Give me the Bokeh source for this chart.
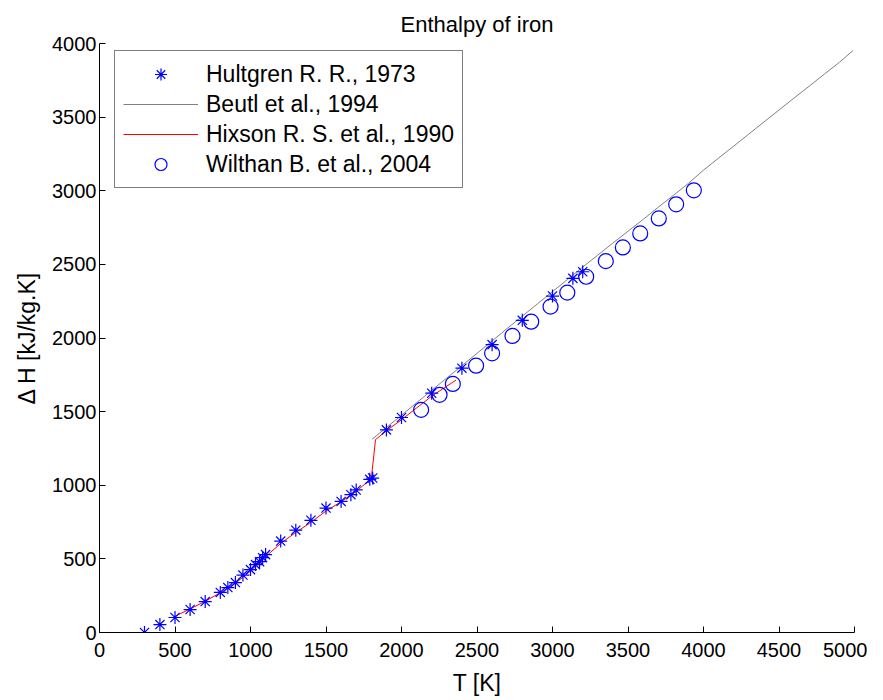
from bokeh.plotting import figure
from bokeh.models import Range1d, SingleIntervalTicker, Legend, LegendItem
from bokeh.embed import file_html
from bokeh.resources import INLINE

# Hultgren R. R., 1973
hult_T = [298, 400, 500, 600, 700, 800, 850, 900, 950, 1000, 1033, 1060, 1080, 1100,
          1200, 1300, 1400, 1500, 1600, 1665, 1700, 1790, 1809,
          1900, 2000, 2200, 2400, 2600, 2800, 3000, 3135, 3200]
hult_H = [0, 54, 102, 156, 210, 272, 305, 339, 390, 427, 461, 481, 508, 529,
          621, 695, 762, 845, 890, 936, 968, 1040, 1049,
          1376, 1460, 1625, 1795, 1955, 2120, 2285, 2405, 2450]

# Beutl et al., 1994
beutl_T = [1806, 1900, 2000, 2100, 2200, 2300, 2400, 2500, 2600, 2700, 2800, 2900,
           3000, 3100, 3200, 3300, 3400, 3500, 3600, 3700, 3800, 3900, 4000, 4100,
           4200, 4300, 4400, 4500, 4600, 4700, 4800, 4900, 4990]
beutl_H = [1313, 1392, 1475, 1560, 1645, 1728, 1812, 1896, 1980, 2065, 2148, 2232,
           2315, 2398, 2482, 2563, 2645, 2725, 2805, 2888, 2968, 3050, 3140, 3222,
           3303, 3385, 3467, 3548, 3630, 3710, 3792, 3872, 3952]

# Hixson R. S. et al., 1990
hix_T = [500, 600, 700, 800, 900, 1000, 1100, 1200, 1300, 1400, 1500, 1600, 1700,
         1800, 1828, 1900, 2000, 2100, 2200, 2362]
hix_H = [110, 160, 212, 270, 335, 418, 515, 605, 680, 748, 825, 888, 958,
         1045, 1310, 1370, 1445, 1525, 1605, 1715]

# Wilthan B. et al., 2004
wil_T = [2130, 2252, 2340, 2494, 2600, 2735, 2859, 2987, 3098, 3223, 3353, 3466,
         3581, 3704, 3819, 3936]
wil_H = [1512, 1614, 1688, 1812, 1896, 2014, 2111, 2213, 2308, 2416, 2522, 2615,
         2710, 2812, 2908, 3003]

FONT = "Liberation Sans"

p = figure(width=867, height=698, x_range=Range1d(0, 5000), y_range=Range1d(0, 4000),
           output_backend="svg", toolbar_location=None,
           min_border_left=99, min_border_right=13, min_border_top=43, min_border_bottom=65,
           title="Enthalpy of iron")
p.title.align = "center"
p.title.vertical_align = "top"
p.title.text_font = FONT
p.title.text_font_size = "22px"
p.title.text_font_style = "normal"
p.title.text_color = "black"
p.title.standoff = 10
p.outline_line_color = None
p.xgrid.visible = False
p.ygrid.visible = False
p.background_fill_color = "white"
p.border_fill_color = "white"

p.xaxis.ticker = SingleIntervalTicker(interval=500, num_minor_ticks=0)
p.yaxis.ticker = SingleIntervalTicker(interval=500, num_minor_ticks=0)
for ax in (p.xaxis, p.yaxis):
    ax.major_tick_in = 6
    ax.major_tick_out = 0
    ax.minor_tick_line_color = None
    ax.axis_line_color = "black"
    ax.major_tick_line_color = "black"
    ax.major_label_text_font = FONT
    ax.major_label_text_font_size = "20px"
    ax.major_label_text_color = "black"
    ax.axis_label_text_font = FONT
    ax.axis_label_text_font_size = "23px"
    ax.axis_label_text_font_style = "normal"
    ax.axis_label_text_color = "black"
p.xaxis.axis_label = "T [K]"
p.yaxis.axis_label = "\u0394 H [kJ/kg.K]"
p.xaxis.major_label_standoff = 10
p.yaxis.major_label_standoff = 3
p.xaxis.axis_label_standoff = 10
p.yaxis.axis_label_standoff = 9

r_beutl = p.line(beutl_T, beutl_H, line_color="#808080", line_width=1)
r_hix = p.line(hix_T, hix_H, line_color="#ff0000", line_width=1)
r_wil = p.scatter(wil_T, wil_H, marker="circle", size=15, fill_color=None,
                  line_color="#0000ff", line_width=1.2)
r_hult = p.scatter(hult_T, hult_H, marker="asterisk", size=13,
                   line_color="#0000ff", line_width=1.2)

legend = Legend(items=[
    LegendItem(label="Hultgren R. R., 1973", renderers=[r_hult]),
    LegendItem(label="Beutl et al., 1994", renderers=[r_beutl]),
    LegendItem(label="Hixson R. S. et al., 1990", renderers=[r_hix]),
    LegendItem(label="Wilthan B. et al., 2004", renderers=[r_wil]),
], location=(15, 444))
legend.label_text_font = FONT
legend.label_text_font_size = "23px"
legend.label_text_color = "black"
legend.label_height = 30
legend.glyph_height = 30
legend.glyph_width = 75
legend.label_standoff = 8
legend.spacing = 0
legend.padding = 8
legend.margin = 0
legend.border_line_color = "black"
legend.border_line_width = 1
legend.background_fill_color = "white"
legend.background_fill_alpha = 1
p.add_layout(legend, "center")

open("out.html", "w").write(file_html(p, INLINE))
